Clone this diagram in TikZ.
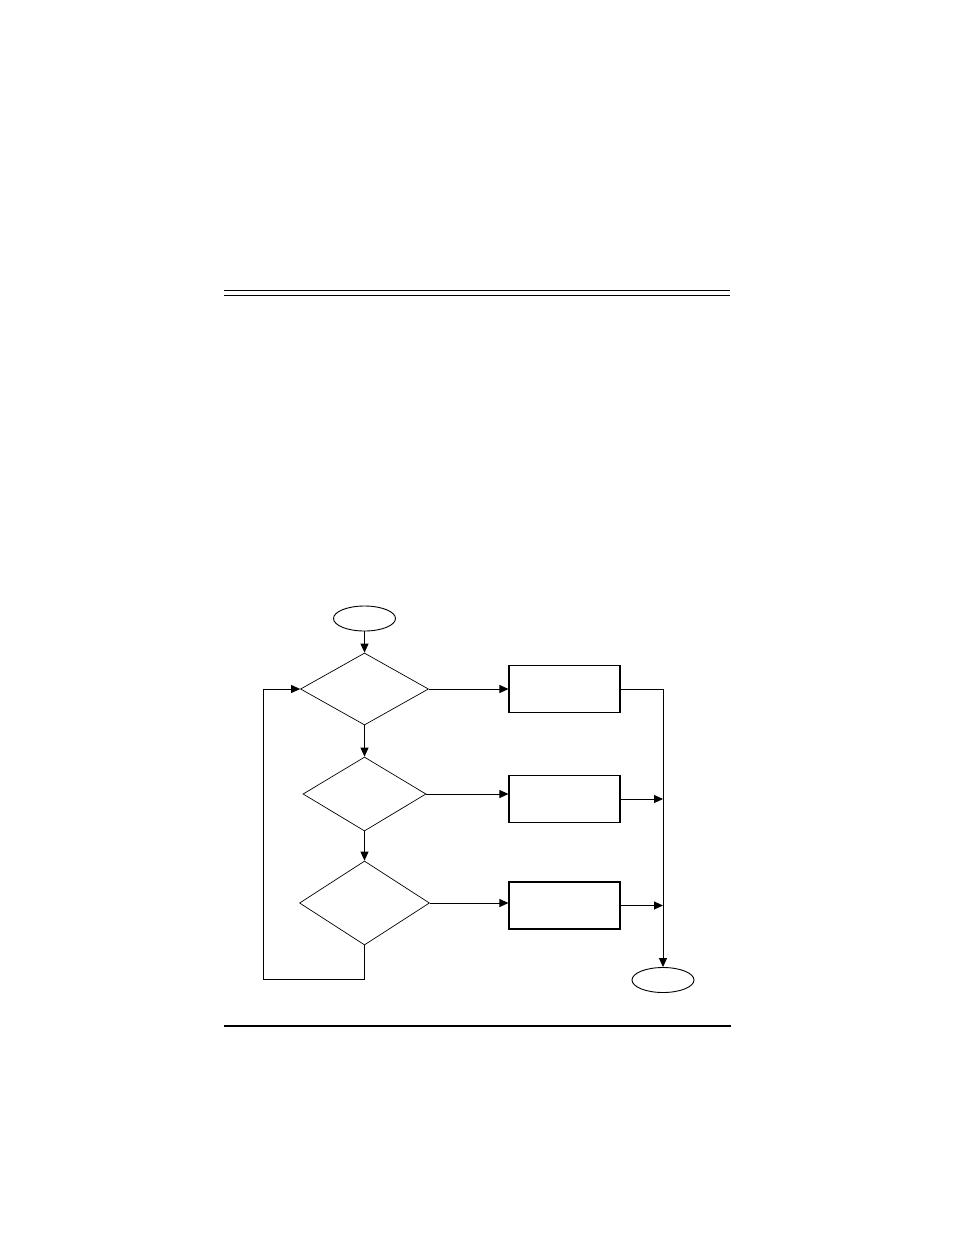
\documentclass[tikz,border=0pt]{standalone}
\usepackage{tikz}
\usetikzlibrary{positioning}
\usetikzlibrary{shapes.geometric}
\usetikzlibrary{arrows.meta}

\begin{document}
\begin{tikzpicture}[x=1bp, y=1bp, -{Triangle[length=9bp,width=8bp]}, node distance = 100bp and 200bp, on grid, line width=0.9bp, terminal/.style ={ellipse, draw, minimum width=62bp, minimum height=25bp, inner sep=0pt}, decision/.style={diamond, draw, line width=0.7bp, minimum width=128bp, minimum height=72bp, inner sep=0pt}, process/.style={rectangle, draw, line width=1.1bp, minimum width=111bp, minimum height=47bp, inner sep=0pt}, rule/.style={-, line width=1.3bp}]
		\useasboundingbox (0,0) rectangle (954,-1235);
		% page rules
		\draw[rule] (224,-290.5) -- (730,-290.5);
		\draw[rule] (224,-295.5) -- (730,-295.5);
		\draw[rule] (224,-1026) -- (731,-1026);
		% flow chart
		\node[terminal] (start) at (364.5,-618.5) {};
		\node[decision] (D1) [below = 70.5bp of start] {};
		\node[decision, minimum width=123bp, minimum height=74bp] (D2) [below = 105bp of D1] {};
		\node[decision, minimum width=130bp, minimum height=84bp] (D3) [below = 109bp of D2] {};
		\node[process] (P1) [right = 200bp of D1] {};
		\node[process] (P2) [below = 110bp of P1] {};
		\node[process] (P3) [below = 106.5bp of P2] {};
		\node[terminal] (stop) at (663,-980) {};
		\coordinate (loop) at (263,-979);
		\path (start) edge (D1)
		(D1) edge (D2)
		(D2) edge (D3)
		(D1.east) edge (D1.east -| P1.west)
		(D2.east) edge (D2.east -| P2.west)
		(D3.east) edge (D3.east -| P3.west);
		\draw[-] (D3.south) |- (loop);
		\draw (loop) |- (D1.west);
		\draw (P1.east) -| (stop.north);
		\draw (P2.east) -- (P2.east -| stop.north);
		\draw (P3.east) -- (P3.east -| stop.north);
\end{tikzpicture}
\end{document}
